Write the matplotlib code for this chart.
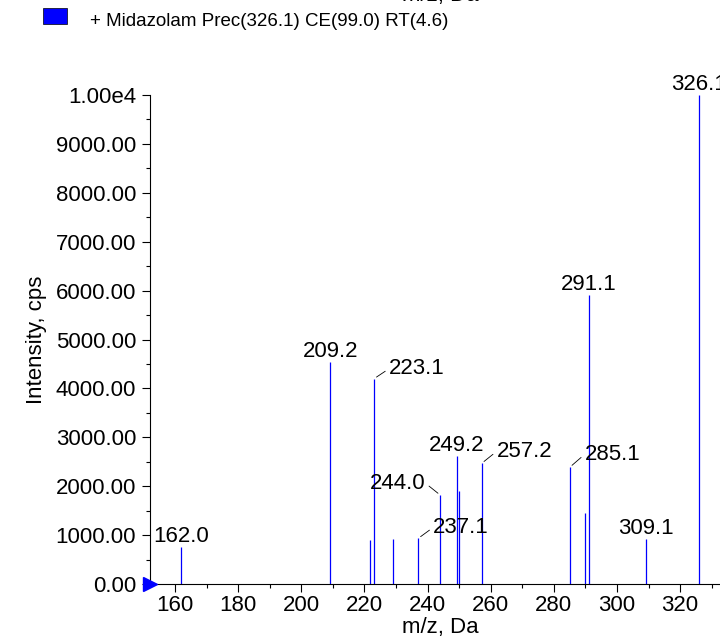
import matplotlib
matplotlib.use('Agg')
import matplotlib.pyplot as plt
import numpy as np
from matplotlib.ticker import MultipleLocator, FuncFormatter

plt.rcParams['font.family'] = ['Liberation Sans', 'DejaVu Sans']
plt.rcParams['font.size'] = 16

# peaks
mz = [162.0, 209.2, 221.9, 223.1, 229.0, 237.1, 244.0, 249.2, 249.9,
      257.2, 285.1, 289.9, 291.1, 309.1, 326.1]
intensity = [760, 4540, 900, 4200, 920, 935, 1820, 2620, 1910,
             2470, 2390, 1460, 5920, 915, 10000]

# labels: (m/z, intensity, text, dx, dy, ha) offsets in pixels
centered = ['162.0', '209.2', '249.2', '291.1', '309.1', '326.1']
leader = {'223.1': (15, 10, 'left'),
          '244.0': (-15, 12, 'right'),
          '237.1': (15, 11, 'left'),
          '257.2': (15, 12, 'left'),
          '285.1': (15, 13, 'left')}

legend_text = '+ Midazolam Prec(326.1) CE(99.0) RT(4.6)'

fig = plt.figure(figsize=(7.2, 6.41), dpi=100)
W, H = 720.0, 641.0
ax = fig.add_axes([150 / W, (H - 584) / H, 580 / W, (584 - 95) / H])

ax.vlines(mz, 0, intensity, color='#0000ff', lw=0.9)

for m, v in zip(mz, intensity):
    lab = '%.1f' % m
    if lab in centered:
        ax.annotate(lab, (m, v), xytext=(0, 5), textcoords='offset pixels',
                    ha='center', va='baseline', fontsize=16, annotation_clip=False)
    elif lab in leader:
        dx, dy, ha = leader[lab]
        rel = (0, 0.5) if ha == 'left' else (1, 0.5)
        ax.annotate(lab, (m, v), xytext=(dx, dy), textcoords='offset pixels',
                    ha=ha, va='center', fontsize=16,
                    arrowprops=dict(arrowstyle='-', color='black', lw=0.6,
                                    relpos=rel, shrinkA=1, shrinkB=2))

ax.set_xlim(152.1, 335.8)
ax.set_ylim(0, 10000)
ax.spines['top'].set_visible(False)
ax.spines['right'].set_visible(False)

ax.xaxis.set_major_locator(MultipleLocator(20))
ax.xaxis.set_minor_locator(MultipleLocator(10))
ax.yaxis.set_major_locator(MultipleLocator(1000))
ax.yaxis.set_minor_locator(MultipleLocator(500))


def yfmt(v, pos):
    if v >= 10000:
        return '1.00e4'
    return '%.2f' % v


ax.yaxis.set_major_formatter(FuncFormatter(yfmt))
ax.tick_params(which='major', length=6, width=0.8, labelsize=16)
ax.tick_params(which='minor', length=3, width=0.8)
ax.tick_params(axis='x', pad=2)
ax.tick_params(axis='y', pad=4)

ax.set_xlabel('m/z, Da', fontsize=16, labelpad=1)
ax.set_ylabel('Intensity, cps', fontsize=16, labelpad=6)

# blue zero marker
ax.plot([152.1], [0], marker='>', color='#0000ff', markersize=10,
        clip_on=False, zorder=5)

# header from the panel above, partly cut
fig.text(440 / W, 1 - 1 / H, 'm/z, Da', ha='center', va='baseline', fontsize=16)
fig.patches.append(plt.Rectangle((43 / W, 1 - 24 / H), 24 / W, 16 / H,
                                 facecolor='#0000ff', edgecolor='black', lw=0.5,
                                 transform=fig.transFigure, figure=fig))
fig.text(90 / W, 1 - 21 / H, legend_text, ha='left', va='center', fontsize=13.5)

fig.savefig('out.png', dpi=100)
